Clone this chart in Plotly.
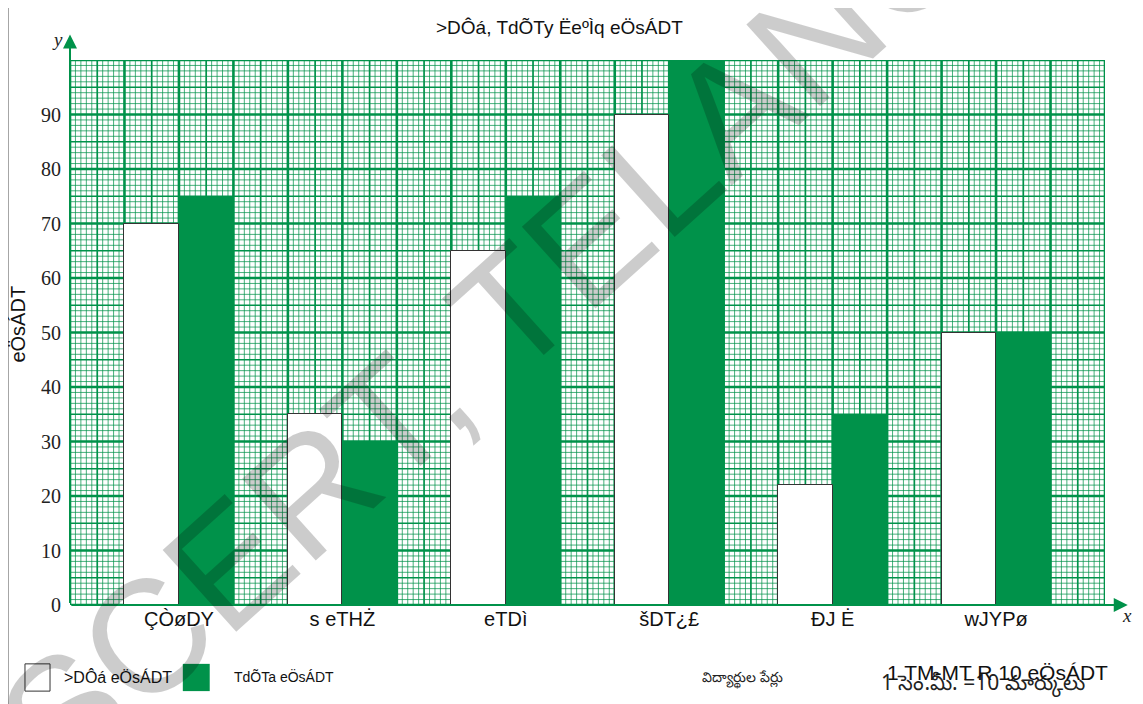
import plotly.graph_objects as go

# data (legacy-font Telugu labels kept as they appear)
students = ["ÇÒøDY", "s eTHŻ", "eTDì", "šDT¿£", "ÐJ Ė", "wJYPø"]
first_marks = [70, 35, 65, 90, 22, 50]
second_marks = [75, 30, 75, 100, 35, 50]
y_ticks = [0, 10, 20, 30, 40, 50, 60, 70, 80, 90]

GREEN = "#00924A"
X_MAX = 190
Y_MAX = 100

centers = [20 + 30 * i for i in range(len(students))]

fig = go.Figure()
fig.add_trace(go.Bar(
    x=[c - 5 for c in centers], y=first_marks, width=10,
    marker=dict(color="white", line=dict(color="#333333", width=1)),
    name=">DÔá eÖsÁDT", showlegend=False,
))
fig.add_trace(go.Bar(
    x=[c + 5 for c in centers], y=second_marks, width=10,
    marker=dict(color=GREEN, line=dict(width=0)),
    name="TdÕTa eÖsÁDT", showlegend=False,
))


def grid_style(v):
    if v % 10 == 0:
        return 2.6, GREEN
    if v % 5 == 0:
        return 1.7, GREEN
    return 1, "rgba(0,146,74,0.72)"


# graph paper grid
shapes = []
for v in range(X_MAX + 1):
    w, col = grid_style(v)
    shapes.append(dict(type="line", xref="x", yref="y", x0=v, x1=v, y0=0, y1=Y_MAX,
                       line=dict(color=col, width=w), layer="below"))
for v in range(Y_MAX + 1):
    w, col = grid_style(v)
    shapes.append(dict(type="line", xref="x", yref="y", y0=v, y1=v, x0=0, x1=X_MAX,
                       line=dict(color=col, width=w), layer="below"))

# legend boxes
shapes.append(dict(type="rect", xref="paper", yref="paper", x0=-0.0435, x1=-0.0193,
                   y0=-0.158, y1=-0.108, line=dict(color="#333333", width=1),
                   fillcolor="white"))
shapes.append(dict(type="rect", xref="paper", yref="paper", x0=0.109, x1=0.135,
                   y0=-0.158, y1=-0.108, line=dict(width=0), fillcolor=GREEN))
# page frame (left and top)
shapes.append(dict(type="line", xref="paper", yref="paper", x0=-0.0599, x1=-0.0599,
                   y0=-0.182, y1=1.103, line=dict(color="#888888", width=1.5)))
shapes.append(dict(type="line", xref="paper", yref="paper", x0=-0.0599, x1=1.04,
                   y0=1.103, y1=1.103, line=dict(color="#888888", width=1.5)))

sans = "Liberation Sans"
serif = "Liberation Serif"


def label(text, x, y, size, family=sans, xanchor="center", color="#111", angle=0):
    return dict(text=text, x=x, y=y, xref="paper", yref="paper", xanchor=xanchor,
                yanchor="middle", textangle=angle, showarrow=False,
                font=dict(family=family, size=size, color=color))


ann = [
    label(">DÔá, TdÕTy ËeºÌq eÖsÁDT", 0.473, 1.059, 19),
    label("eÖsÁDT", -0.050, 0.515, 20, angle=-90),
    label("<i>y</i>", -0.012, 1.037, 19, family=serif, color="#222"),
    label("<i>x</i>", 1.021, -0.020, 19, family=serif, color="#222"),
    label(">DÔá eÖsÁDT", -0.008, -0.132, 16, xanchor="left"),
    label("TdÕTa eÖsÁDT", 0.1565, -0.132, 14, xanchor="left"),
    label("విద్యార్థుల పేర్లు", 0.609, -0.134, 14, family="Noto Sans", xanchor="left",
          color="#222"),
    label("1 సెం.మీ. =10 మార్కులు", 0.782, -0.143, 21, family="Noto Sans",
          xanchor="left", color="#222"),
    label("1 TM-MT R 10 eÖsÁDT", 0.787, -0.123, 21, xanchor="left"),
    # axis arrows
    dict(x=1.022, y=0, xref="paper", yref="paper", ax=-1058, ay=0, axref="pixel",
         ayref="pixel", showarrow=True, arrowhead=2, arrowsize=1.4, arrowwidth=2,
         arrowcolor=GREEN, text=""),
    dict(x=0, y=1.047, xref="paper", yref="paper", ax=0, ay=570, axref="pixel",
         ayref="pixel", showarrow=True, arrowhead=2, arrowsize=1.4, arrowwidth=2,
         arrowcolor=GREEN, text=""),
    # watermark
    dict(text="SCERT, TELANGANA", x=0.522, y=0.705, xref="paper", yref="paper",
         xanchor="center", yanchor="middle", textangle=-42, showarrow=False,
         font=dict(family=sans, size=160, color="rgba(0,0,0,0.2)")),
]

# the page adds an 8px body margin, so the figure is 8px smaller each way
fig.update_layout(
    width=1135, height=696,
    margin=dict(l=62, r=38, t=52, b=99),
    paper_bgcolor="white", plot_bgcolor="white",
    barmode="overlay", bargap=0,
    shapes=shapes, annotations=ann,
    xaxis=dict(range=[0, X_MAX], tickvals=centers, ticktext=students, showgrid=False,
               zeroline=False, showline=False, ticks="",
               tickfont=dict(family=sans, size=20, color="#111")),
    yaxis=dict(range=[0, Y_MAX], tickvals=y_ticks, showgrid=False, zeroline=False,
               showline=False, ticks="", ticklabelstandoff=8,
               tickfont=dict(family=serif, size=20, color="#222")),
)

fig.write_html("out.html")
